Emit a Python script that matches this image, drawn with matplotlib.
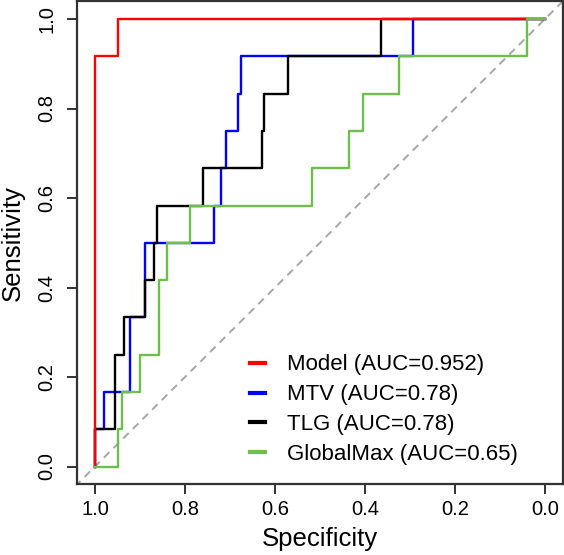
import matplotlib
matplotlib.use("Agg")
import matplotlib.pyplot as plt

plt.rcParams['font.family'] = ['Liberation Sans', 'DejaVu Sans']

# ROC step points (specificity, sensitivity)
model_spec = [1.0, 1.0, 0.95, 0.95, 0.0]
model_sens = [0.0, 0.917, 0.917, 1.0, 1.0]

mtv_spec = [1.0, 1.0, 0.98, 0.98, 0.922, 0.922, 0.889, 0.889, 0.735, 0.735,
            0.721, 0.721, 0.708, 0.708, 0.682, 0.682, 0.676, 0.676, 0.293, 0.293, 0.0]
mtv_sens = [0.0, 0.083, 0.083, 0.167, 0.167, 0.333, 0.333, 0.5, 0.5, 0.583,
            0.583, 0.667, 0.667, 0.75, 0.75, 0.833, 0.833, 0.917, 0.917, 1.0, 1.0]

tlg_spec = [1.0, 1.0, 0.956, 0.956, 0.936, 0.936, 0.889, 0.889, 0.869, 0.869,
            0.863, 0.863, 0.759, 0.759, 0.630, 0.630, 0.624, 0.624, 0.572, 0.572,
            0.364, 0.364, 0.0]
tlg_sens = [0.0, 0.083, 0.083, 0.25, 0.25, 0.333, 0.333, 0.417, 0.417, 0.5,
            0.5, 0.583, 0.583, 0.667, 0.667, 0.75, 0.75, 0.833, 0.833, 0.917,
            0.917, 1.0, 1.0]

gmax_spec = [1.0, 0.95, 0.95, 0.939, 0.939, 0.901, 0.901, 0.858, 0.858, 0.839,
             0.839, 0.789, 0.789, 0.517, 0.517, 0.436, 0.436, 0.405, 0.405, 0.324,
             0.324, 0.039, 0.039, 0.0]
gmax_sens = [0.0, 0.0, 0.083, 0.083, 0.167, 0.167, 0.25, 0.25, 0.417, 0.417,
             0.5, 0.5, 0.583, 0.583, 0.667, 0.667, 0.75, 0.75, 0.833, 0.833,
             0.917, 0.917, 1.0, 1.0]

labels = ["Model (AUC=0.952)", "MTV (AUC=0.78)", "TLG (AUC=0.78)", "GlobalMax (AUC=0.65)"]
colors = ["#FF0000", "#0000FF", "#000000", "#6DBE4B"]
ticks = [1.0, 0.8, 0.6, 0.4, 0.2, 0.0]

fig = plt.figure(figsize=(5.64, 5.55), dpi=100)
ax = fig.add_axes([77 / 564, 1 - 484.4 / 555, 486 / 564, 483.3 / 555])

# diagonal reference line
ax.axline((1, 0), (0, 1), color="#A6A6A6", lw=1.4, ls=(0, (4, 3)), zorder=0)

lw = 1.7
l_model, = ax.plot(model_spec, model_sens, color=colors[0], lw=lw, zorder=3)
l_mtv, = ax.plot(mtv_spec, mtv_sens, color=colors[1], lw=lw, zorder=1)
l_tlg, = ax.plot(tlg_spec, tlg_sens, color=colors[2], lw=lw, zorder=2)
l_gmax, = ax.plot(gmax_spec, gmax_sens, color=colors[3], lw=lw, zorder=4)

ax.set_xlim(1.04, -0.04)
ax.set_ylim(-0.04, 1.04)
ax.set_xticks(ticks)
ax.set_yticks(ticks)
ax.set_xticklabels(["%.1f" % t for t in ticks])
ax.set_yticklabels(["%.1f" % t for t in ticks], rotation=90, va="center")
ax.tick_params(axis="both", length=7, width=1.3, color="#222222", labelsize=14.5)
ax.tick_params(axis="x", pad=4)
ax.tick_params(axis="y", pad=8)
for s in ax.spines.values():
    s.set_linewidth(1.6)
    s.set_color("#333333")

ax.set_xlabel("Specificity", fontsize=18.5, labelpad=6)
ax.set_ylabel("Sensitivity", fontsize=18.5, labelpad=9)

leg = ax.legend([l_model, l_mtv, l_tlg, l_gmax], labels, loc="lower left",
                bbox_to_anchor=(0.355, 0.04), frameon=False, fontsize=16,
                handlelength=0.7, handletextpad=1.0, labelspacing=0.4,
                borderpad=0, borderaxespad=0)
for h in leg.get_lines():
    h.set_linewidth(3)

fig.savefig("out.png", dpi=100)
